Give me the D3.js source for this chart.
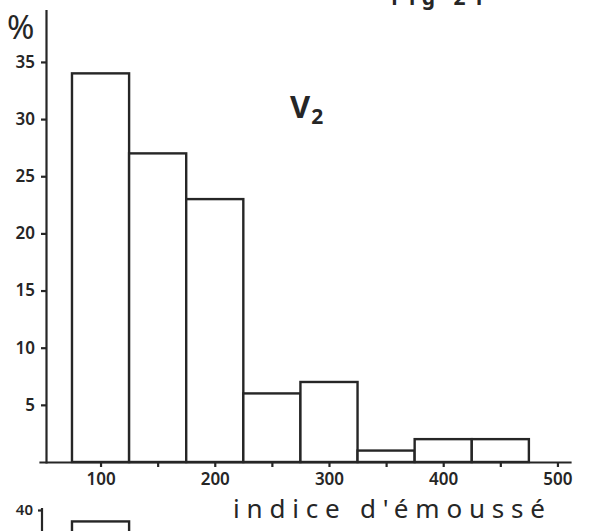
<!DOCTYPE html>
<html lang="fr">
    <head>
        <meta charset="utf-8">
        <title>V2 - indice d'émoussé</title>
        <script type="text/javascript" src="https://d3js.org/d3.v7.min.js"></script>

        <style type="text/css">
            body {
                margin: 0;
                background-color: #ffffff;
            }

            svg text {
                font-family: "Noto Sans", "DejaVu Sans", sans-serif;
                fill: #262626;
            }

            .axis path, .axis line {
                stroke: #262626;
                stroke-width: 2.2px;
            }

            .axis text {
                font-size: 17px;
                font-weight: 600;
            }

            .bar {
                fill: #ffffff;
                stroke: #262626;
                stroke-width: 2.4px;
            }
        </style>
    </head>

    <body>
        <svg width="590" height="531" id="svg1"></svg>

        <script type="text/javascript">

            // histogram data: class lower/upper bounds and percentages
            const binStart = [75, 125, 175, 225, 275, 325, 375, 425];
            const binEnd   = [125, 175, 225, 275, 325, 375, 425, 475];
            const percent  = [34, 27, 23, 6, 7, 1, 2, 2];

            // tick values
            const yTicks = [5, 10, 15, 20, 25, 30, 35];
            const xTicks = [100, 150, 200, 250, 300, 350, 400, 450, 500];
            const xLabels = [100, 200, 300, 400, 500];

            // second (cut off) histogram below: only first bar visible
            const binStart2 = [75];
            const binEnd2 = [125];
            const percent2 = [39];
            const yTicks2 = [40];

            const svg = d3.select("#svg1");

            // scales
            const xScale = d3.scaleLinear()
                            .domain([47, 511])
                            .range([40, 570]);

            const yScale = d3.scaleLinear()
                            .domain([0, 39.5])
                            .range([462, 10.5]);

            // bars
            svg.selectAll(".bar.top")
                .data(percent)
                .enter()
                .append("rect")
                .attr("class", "bar top")
                .attr("x", (d, i) => xScale(binStart[i]))
                .attr("y", d => yScale(d))
                .attr("width", (d, i) => xScale(binEnd[i]) - xScale(binStart[i]))
                .attr("height", d => yScale(0) - yScale(d));

            // left axis
            const leftAxis = d3.axisLeft(yScale)
                            .tickValues(yTicks)
                            .tickSize(5)
                            .tickSizeOuter(0)
                            .tickPadding(6);

            svg.append("g")
                .attr("class", "axis y")
                .attr("transform", "translate(46,0)")
                .call(leftAxis);

            // bottom axis
            const bottomAxis = d3.axisBottom(xScale)
                            .tickValues(xTicks)
                            .tickSize(5)
                            .tickSizeOuter(0)
                            .tickPadding(6)
                            .tickFormat(d => xLabels.includes(d) ? d : "");

            svg.append("g")
                .attr("class", "axis x")
                .attr("transform", "translate(0," + yScale(0) + ")")
                .call(bottomAxis);

            svg.selectAll(".axis path.domain").attr("stroke-linecap", "square");

            // percent sign
            svg.append("text")
                .attr("x", 7)
                .attr("y", 39)
                .style("font-size", "33px")
                .text("%");

            // V2 label
            const v2 = svg.append("text")
                .attr("x", 290)
                .attr("y", 118)
                .style("font-size", "31px")
                .style("font-weight", "bold");
            v2.append("tspan").text("V");
            v2.append("tspan")
                .attr("dx", 1)
                .attr("dy", 6)
                .style("font-size", "21px")
                .text("2");

            // figure number, cut at the top edge
            svg.append("text")
                .attr("x", 391)
                .attr("y", 5)
                .attr("textLength", 93)
                .attr("lengthAdjust", "spacing")
                .style("font-size", "21px")
                .style("font-weight", "bold")
                .text("Fig 21");

            // x axis title
            svg.append("text")
                .attr("x", 233)
                .attr("y", 518)
                .attr("textLength", 312)
                .attr("lengthAdjust", "spacing")
                .style("font-size", "26px")
                .text("indice d'émoussé");

            // second histogram (partially visible)
            const yScale2 = d3.scaleLinear()
                            .domain([0, 40])
                            .range([510 + 40 * 11.43, 510]);

            svg.selectAll(".bar.bottom")
                .data(percent2)
                .enter()
                .append("rect")
                .attr("class", "bar bottom")
                .attr("x", (d, i) => xScale(binStart2[i]))
                .attr("y", d => yScale2(d))
                .attr("width", (d, i) => xScale(binEnd2[i]) - xScale(binStart2[i]))
                .attr("height", d => yScale2(0) - yScale2(d));

            const leftAxis2 = d3.axisLeft(yScale2)
                            .tickValues(yTicks2)
                            .tickSize(4)
                            .tickSizeOuter(0)
                            .tickPadding(5);

            const ax2 = svg.append("g")
                .attr("class", "axis y2")
                .attr("transform", "translate(42,0)")
                .call(leftAxis2);
            ax2.select(".domain").attr("d", "M0,508V" + yScale2(0));
            ax2.selectAll("text").style("font-size", "15px");

        </script>
    </body>
</html>
